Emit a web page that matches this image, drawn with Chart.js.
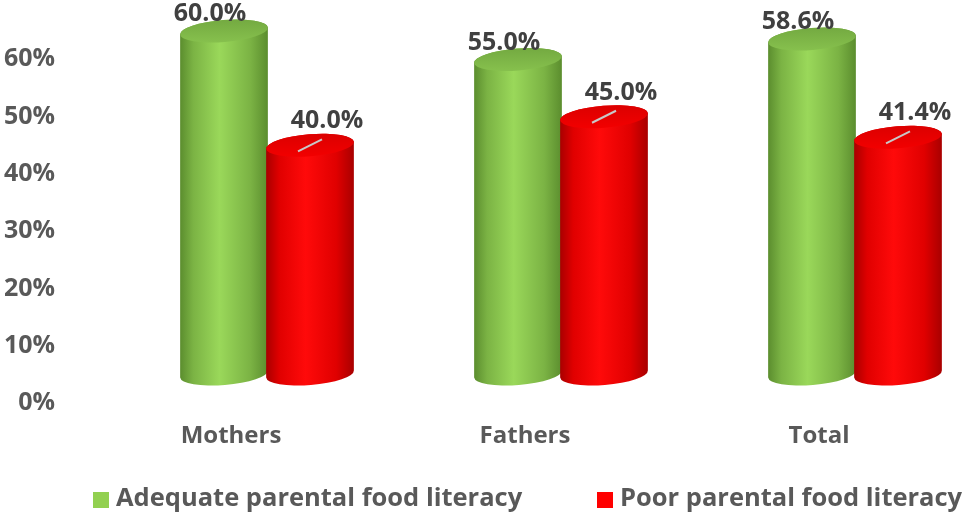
<!DOCTYPE html>
<html>
<head>
<meta charset="utf-8">
<script src="https://cdn.jsdelivr.net/npm/chart.js@4"></script>
<style>
  html, body { margin: 0; padding: 0; background: #fff; }
  #wrap { width: 969px; height: 516px; }
</style>
</head>
<body>
<div id="wrap"><canvas id="myChart"></canvas></div>
<script>
const categories = ['Mothers', 'Fathers', 'Total'];
const adequate = [60.0, 55.0, 58.6];   // Adequate parental food literacy
const poor = [40.0, 45.0, 41.4];       // Poor parental food literacy
const yTicks = [0, 10, 20, 30, 40, 50, 60];

const FONT = "'Open Sans', 'DejaVu Sans', sans-serif";

// colour sets for the cylinders
const greenLook = { edge: '#5b8d2e', side: '#7bb344', mid: '#9ad85a', top: '#74aa41', topHi: '#86c04d', line: null };
const redLook = { edge: '#a80000', side: '#e00000', mid: '#ff0a0a', top: '#dc0000', topHi: '#f20000', line: '#c8c8c8' };

// draws each bar as a small 3D cylinder
const cylinders = {
  id: 'cylinders',
  beforeDatasetsDraw(chart) {
    const ctx = chart.ctx;
    chart.data.datasets.forEach((ds, i) => {
      if (!ds.look) return;
      const meta = chart.getDatasetMeta(i);
      const look = ds.look;
      meta.data.forEach((bar, j) => {
        if (ds.data[j] == null) return;
        const cx = bar.x, rx = bar.width / 2 + 1, ry = 11, rot = -0.08;
        const ty = bar.y, by = bar.base;
        ctx.save();
        // body
        const g = ctx.createLinearGradient(cx - rx, 0, cx + rx, 0);
        g.addColorStop(0, look.edge);
        g.addColorStop(0.15, look.side);
        g.addColorStop(0.45, look.mid);
        g.addColorStop(0.8, look.side);
        g.addColorStop(1, look.edge);
        ctx.beginPath();
        ctx.ellipse(cx, by, rx, ry, rot, 0, Math.PI, false);
        ctx.ellipse(cx, ty, rx, ry, rot, Math.PI, 0, false);
        ctx.closePath();
        ctx.fillStyle = g;
        ctx.fill();
        // top face
        const tg = ctx.createLinearGradient(0, ty - ry, 0, ty + ry);
        tg.addColorStop(0, look.top);
        tg.addColorStop(1, look.topHi);
        ctx.beginPath();
        ctx.ellipse(cx, ty, rx, ry, rot, 0, Math.PI * 2);
        ctx.fillStyle = tg;
        ctx.fill();
        // leader line
        if (look.line) {
          ctx.beginPath();
          ctx.moveTo(cx - 12, ty + 6);
          ctx.lineTo(cx + 12, ty - 6);
          ctx.strokeStyle = look.line;
          ctx.lineWidth = 2;
          ctx.stroke();
        }
        ctx.restore();
      });
    });
    return false;
  },
  afterDraw(chart) {
    const ctx = chart.ctx;
    ctx.save();
    // value labels
    ctx.font = 'bold 25px ' + FONT;
    ctx.fillStyle = '#404040';
    ctx.textAlign = 'center';
    ctx.textBaseline = 'middle';
    chart.data.datasets.forEach((ds, i) => {
      if (!ds.look) return;
      const meta = chart.getDatasetMeta(i);
      meta.data.forEach((bar, j) => {
        if (ds.data[j] == null) return;
        ctx.fillText(ds.data[j].toFixed(1) + '%', bar.x + ds.labelDx, bar.y + ds.labelDy);
      });
    });
    // legend
    const items = chart.data.datasets.filter(ds => ds.look);
    const xs = [93, 597];
    ctx.textAlign = 'left';
    ctx.font = 'bold 25.5px ' + FONT;
    items.forEach((ds, k) => {
      ctx.fillStyle = ds.backgroundColor;
      ctx.fillRect(xs[k], 492, 16, 16);
      ctx.fillStyle = '#595959';
      ctx.fillText(ds.label, xs[k] + 23, 499);
    });
    ctx.restore();
  }
};

const data = {
  labels: categories,
  datasets: [
    { label: '', data: [null, null, null], yAxisID: 'y2' }, // spacer slot
    {
      label: 'Adequate parental food literacy',
      data: adequate,
      yAxisID: 'y2',
      backgroundColor: '#92d050',
      look: greenLook, labelDx: -14, labelDy: -17
    },
    {
      label: 'Poor parental food literacy',
      data: poor,
      yAxisID: 'y2',
      backgroundColor: '#ff0000',
      look: redLook, labelDx: 17, labelDy: -24
    }
  ]
};

const config = {
  type: 'bar',
  data: data,
  options: {
    responsive: true,
    maintainAspectRatio: false,
    animation: false,
    categoryPercentage: 258 / 294,
    barPercentage: 1.0,
    layout: { padding: { top: 2, right: 10, bottom: 64, left: 0 } },
    plugins: {
      legend: { display: false },
      tooltip: { enabled: false }
    },
    scales: {
      x: {
        grid: { display: false, drawTicks: false },
        border: { display: false },
        ticks: {
          color: '#595959',
          font: { family: FONT, size: 24, weight: 'bold' },
          padding: 19,
          labelOffset: 7
        },
        afterFit(scale) { scale.height = 49; }
      },
      y: {
        min: 0,
        max: 70,
        grid: { display: false, drawTicks: false },
        border: { display: false },
        ticks: {
          stepSize: 10,
          color: '#595959',
          font: { family: FONT, size: 25, weight: 'bold' },
          padding: 22,
          callback: v => v + '%'
        },
        afterBuildTicks(scale) {
          scale.ticks = yTicks.map(v => ({ value: v }));
        },
        afterFit(scale) {
          scale.width = 77;
          scale.paddingTop = 0;
          scale.paddingBottom = 0;
        }
      },
      y2: {
        display: false,
        min: -5.07,
        max: 65.07
      }
    }
  },
  plugins: [cylinders]
};

const myChart = new Chart(document.getElementById('myChart'), config);
</script>
</body>
</html>
